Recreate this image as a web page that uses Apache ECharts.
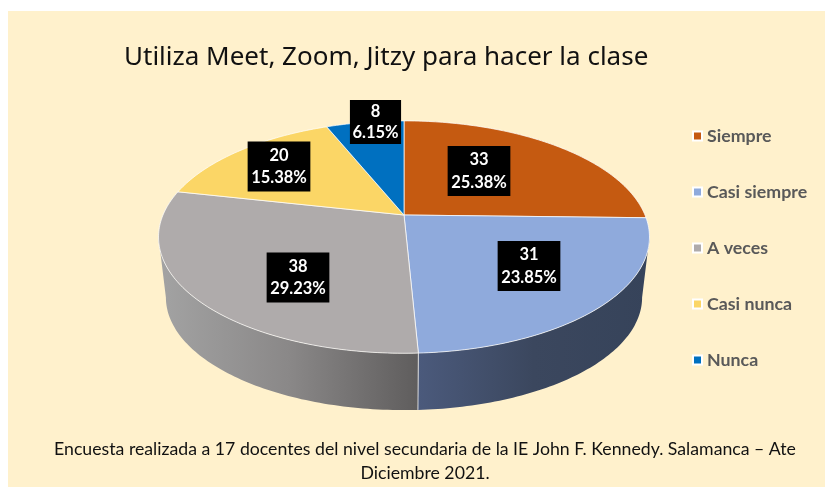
<!DOCTYPE html>
<html><head><meta charset="utf-8">
<style>html,body{margin:0;padding:0;background:#fff}#c{width:825px;height:487px}</style>
<script src="https://cdn.jsdelivr.net/npm/echarts@6/dist/echarts.min.js"></script>
</head><body><div id="c"></div>
<script>
const titleText = 'Utiliza Meet, Zoom, Jitzy para hacer la clase';
const footerText = 'Encuesta realizada a 17 docentes del nivel secundaria de la IE John F. Kennedy. Salamanca – Ate\nDiciembre 2021.';
const categories = ['Siempre', 'Casi siempre', 'A veces', 'Casi nunca', 'Nunca'];
const values = [33, 31, 38, 20, 8];

const faceColors = ['#C55A11', '#8FAADC', '#AFABAB', '#FBD666', '#0070C0'];
const wallStops = [
  ['#6e3209', '#6e3209'],
  ['#4b5a7c', '#3b475e', '#36435a'],
  ['#a3a3a3', '#8a8888', '#5f5d5d'],
  ['#8c7630', '#8c7630'],
  ['#003e6b', '#003e6b']
];
// label box layout: centre x, centre y, line height, vertical and horizontal padding
const labelCentres = [[479, 171], [529, 266], [298, 277.5], [279, 166.5], [375.5, 122]];
const labelLineHeights = [22.5, 22.5, 22.5, 22.5, 20.5];
const labelPadding = [[2.5, 3.5], [2.5, 3.5], [2.5, 3.5], [2.5, 3.5], [1.5, 2.5]];

// projected disc geometry
const apexX = 404, apexY = 215, radiusX = 241, radiusY = 112, tilt = 0.19;
const depth = 61, shrink = 0.97;
const total = values.reduce((a, b) => a + b, 0);
const startShares = values.map((_, i) => values.slice(0, i).reduce((a, b) => a + b, 0) / total);

function topPoint(deg) {
  const t = deg * Math.PI / 180, u = Math.sin(t), v = -Math.cos(t), s = 1 / (1 - tilt * v);
  return [apexX + radiusX * u * s, apexY + radiusY * v * s];
}
function lowPoint(deg) {
  const p = topPoint(deg);
  return [apexX + shrink * (p[0] - apexX), apexY + depth + shrink * (p[1] - apexY)];
}
function arc(fn, a, b) {
  const n = Math.max(2, Math.ceil(Math.abs(b - a))), out = [];
  for (let i = 0; i <= n; i++) out.push(fn(a + (b - a) * i / n));
  return out;
}
// angles where the rim is rightmost and leftmost: the visible wall lies between them
let rimRight = 90, rimLeft = 270;
for (let d = 0; d < 360; d += 0.5) {
  if (topPoint(d)[0] > topPoint(rimRight)[0]) rimRight = d;
  if (topPoint(d)[0] < topPoint(rimLeft)[0]) rimLeft = d;
}

function renderSlice(i) {
  return function (params, api) {
    const a = startShares[i] * 360;
    const b = a + api.value(0) / total * 360;
    const children = [];
    const wa = Math.max(a, rimRight), wb = Math.min(b, rimLeft);
    if (wb > wa) {
      const stops = wallStops[i];
      children.push({
        type: 'polygon', z2: 1,
        shape: { points: arc(topPoint, wa, wb).concat(arc(lowPoint, wb, wa)) },
        style: {
          fill: { type: 'linear', x: 0, y: 0, x2: 1, y2: 0,
            colorStops: stops.map((c, k) => ({ offset: k / (stops.length - 1), color: c })) },
          stroke: null
        }
      });
      if (a > rimRight) children.push({
        type: 'line', z2: 2,
        shape: { x1: topPoint(a)[0], y1: topPoint(a)[1], x2: lowPoint(a)[0], y2: lowPoint(a)[1] },
        style: { stroke: 'rgba(255,255,255,0.75)', lineWidth: 1 }
      });
    }
    children.push({
      type: 'polygon', z2: 3,
      shape: { points: [[apexX, apexY]].concat(arc(topPoint, a, b)) },
      style: { fill: faceColors[i], stroke: 'rgba(255,255,255,0.8)', lineWidth: 0.9, lineJoin: 'round' }
    });
    const c = labelCentres[i];
    children.push({
      type: 'text', z2: 10, x: c[0], y: c[1],
      style: {
        text: api.value(0) + '\n' + (api.value(0) / total * 100).toFixed(2) + '%',
        fill: '#fff', font: 'bold 16.5px Lato', lineHeight: labelLineHeights[i],
        align: 'center', verticalAlign: 'middle', backgroundColor: '#000',
        padding: labelPadding[i]
      }
    });
    return { type: 'group', children };
  };
}

const chart = echarts.init(document.getElementById('c'), null, { renderer: 'canvas' });
chart.setOption({
  animation: false,
  backgroundColor: '#fff',
  graphic: [{ type: 'rect', z: -10, silent: true, shape: { x: 8, y: 11, width: 817, height: 476 }, style: { fill: '#FFF1CC' } }],
  title: [
    { text: titleText, left: 119, top: 38, textStyle: { fontFamily: 'Noto Sans', fontWeight: 'normal', fontSize: 26, color: '#111', lineHeight: 30 } },
    { text: footerText, left: 420, textAlign: 'center', top: 432, textStyle: { fontFamily: 'Lato', fontWeight: 'normal', fontSize: 17.7, color: '#111', lineHeight: 24 } }
  ],
  legend: {
    orient: 'vertical', left: 692, top: 126, padding: 0, itemGap: 36, itemWidth: 9, itemHeight: 9, icon: 'rect',
    data: categories,
    itemStyle: { borderColor: '#fff', borderWidth: 2 },
    textStyle: { fontFamily: 'Lato', fontWeight: 'bold', fontSize: 17.8, color: '#595959', lineHeight: 20 }
  },
  series: categories.map((name, i) => ({
    type: 'custom', name, coordinateSystem: 'none', silent: true,
    itemStyle: { color: faceColors[i] },
    data: [values[i]],
    renderItem: renderSlice(i)
  }))
});
</script></body></html>
